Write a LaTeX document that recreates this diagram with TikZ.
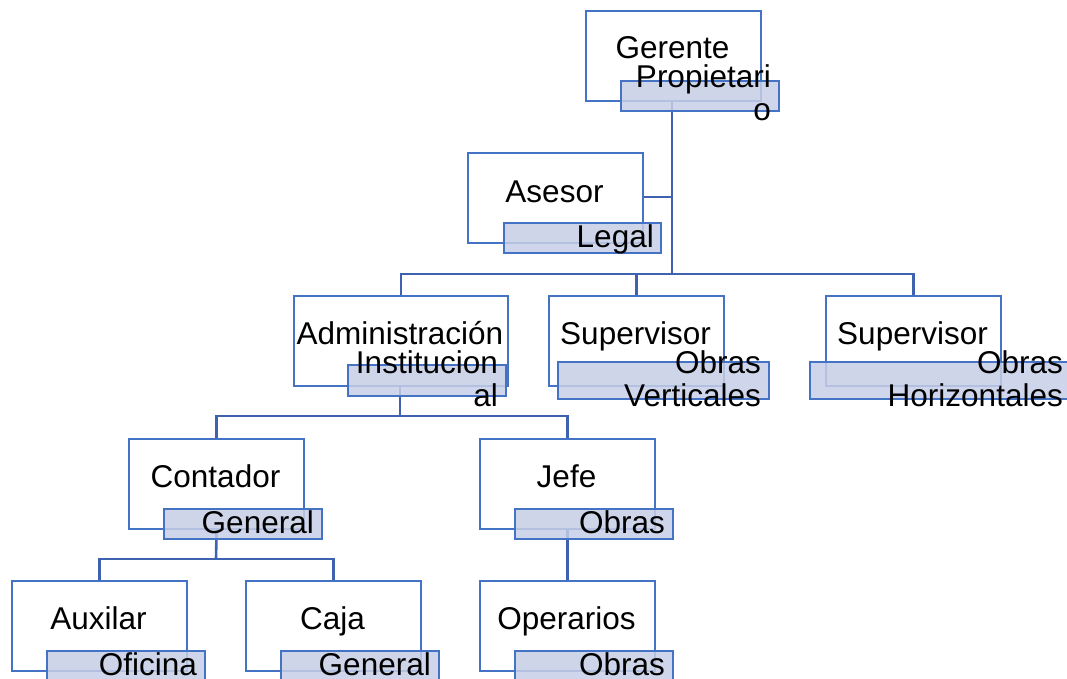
\documentclass[tikz,border=0pt]{standalone}
\usepackage{fontspec}
\setmainfont{Liberation Sans}
\definecolor{bord}{RGB}{68,114,196}
\definecolor{connc}{RGB}{62,98,175}
\definecolor{lab}{RGB}{199,206,230}
\begin{document}
\begin{tikzpicture}[x=1pt,y=-1pt,
  box/.style={draw=bord,line width=2.2pt,fill=white,inner sep=0pt,anchor=north west},
  labbox/.style={draw=bord,line width=2.2pt,fill=lab,fill opacity=0.85,inner sep=0pt,anchor=north west},
  main/.style={font=\fontsize{31.5}{33}\selectfont,anchor=base,inner sep=0pt},
  ltxt/.style={font=\fontsize{31.5}{33}\selectfont,anchor=base east,inner sep=0pt,align=right},
  conn/.style={draw=connc,line width=2.6pt}]
\useasboundingbox (0,0) rectangle (1067,679);
\begin{scope}
\clip (0,0) rectangle (1067,679);
% white boxes
\node[box,minimum width=175,minimum height=90] (g) at (585,10) {};
\node[box,minimum width=175,minimum height=90] (a) at (467,152) {};
\node[box,minimum width=214,minimum height=90] (ad) at (293,295) {};
\node[box,minimum width=175,minimum height=90] (sv) at (548,295) {};
\node[box,minimum width=175,minimum height=90] (sh) at (825,295) {};
\node[box,minimum width=175,minimum height=90] (c) at (128,438) {};
\node[box,minimum width=175,minimum height=90] (j) at (479,438) {};
\node[box,minimum width=175,minimum height=90] (x) at (11,580) {};
\node[box,minimum width=175,minimum height=90] (k) at (245,580) {};
\node[box,minimum width=175,minimum height=90] (o) at (479,580) {};
% connectors
\coordinate (b1) at (672,274);
\coordinate (b2) at (400,416);
\coordinate (b3) at (216,559);
\draw[conn] (g.south-|b1) -- (b1);
\draw[conn] (a.east|-0,197) -- (672,197);
\draw[conn] (ad.north) |- (b1) -| (sh.north);
\draw[conn] (sv.north) -- (sv.north|-b1);
\draw[conn] (ad.south-|b2) -- (b2);
\draw[conn] (c.north) |- (b2) -| (j.north);
\draw[conn] (c.south) -- (b3);
\draw[conn] (x.north) |- (b3) -| (k.north);
\draw[conn] (j.south) -- (o.north);
% label boxes
\node[labbox,minimum width=158,minimum height=30] (gl) at (620,80) {};
\node[labbox,minimum width=157,minimum height=30] (al) at (503,222) {};
\node[labbox,minimum width=158,minimum height=31] (adl) at (347,364) {};
\node[labbox,minimum width=211,minimum height=37] (svl) at (557,361) {};
\node[labbox,minimum width=270,minimum height=37] (shl) at (809,361) {};
\node[labbox,minimum width=158,minimum height=30] (cl) at (163,508) {};
\node[labbox,minimum width=158,minimum height=30] (jl) at (514,508) {};
\node[labbox,minimum width=158,minimum height=30] (xl) at (46,650) {};
\node[labbox,minimum width=158,minimum height=30] (kl) at (280,650) {};
\node[labbox,minimum width=158,minimum height=30] (ol) at (514,650) {};
% main texts
\node[main] (gt) at (672.5,59) {Gerente};
\node[main] (at) at (554.5,202) {Asesor};
\node[main] (adt) at (400,344) {Administración};
\node[main] (svt) at (635.5,344) {Supervisor};
\node[main] (sht) at (912.5,344) {Supervisor};
\node[main] (ct) at (215.5,487) {Contador};
\node[main] (jt) at (566.5,487) {Jefe};
\node[main] (xt) at (98.5,629) {Auxilar};
\node[main] (kt) at (332.5,629) {Caja};
\node[main] (ot) at (566.5,629) {Operarios};
% label texts (base = last line)
\node[ltxt] (glt) at (771,121) {Propietari\\o};
\node[ltxt] (alt) at (654,247) {Legal};
\node[ltxt] (adlt) at (498,406) {Institucion\\al};
\node[ltxt] (svlt) at (761,406) {Obras\\Verticales};
\node[ltxt] (shlt) at (1063,406) {Obras\\Horizontales};
\node[ltxt] (clt) at (314,533) {General};
\node[ltxt] (jlt) at (665,533) {Obras};
\node[ltxt] (xlt) at (197,675) {Oficina};
\node[ltxt] (klt) at (431,675) {General};
\node[ltxt] (olt) at (665,675) {Obras};
\end{scope}
\end{tikzpicture}
\end{document}
